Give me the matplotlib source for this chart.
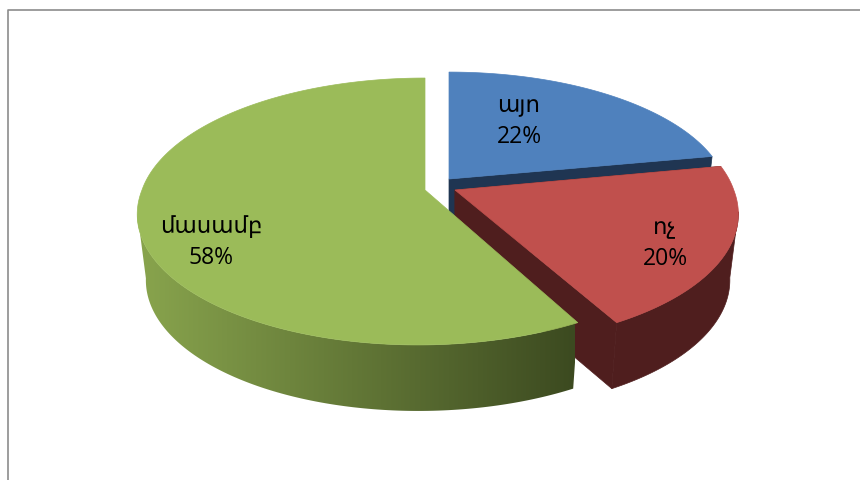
#!/usr/bin/env python3
import numpy as np
import matplotlib
matplotlib.use('Agg')
import matplotlib.pyplot as plt
from matplotlib.colors import LinearSegmentedColormap
from matplotlib.patches import Polygon

labels = ['այո', 'ոչ', 'մասամբ']
percents = [22, 20, 58]
top_colors = ['#4F81BD', '#C0504D', '#9BBB59']
side_colors = ['#1F3552', '#4F1E1E', '#4F1E1E']

# apex of each slice, radius scale and lean of the front, in pixels
apex = [(449, 179), (455, 190), (425, 190)]
scale_x = [0.975, 0.985, 1.0]
scale_y = [0.955, 1.0, 1.0]
lean = [0.0, 0.04, -0.045]
label_pos = [(519, 121.5), (665, 243.5), (211, 242.5)]

RX = 283
RY = 130
PERSP = 0.161
DEPTH = 66
SHRINK = 0.97
GREEN_LIGHT = '#8AA64E'
GREEN_DARK = '#3C4A20'
FONT = ['Open Sans', 'DejaVu Sans']


def project(t, i):
    c = apex[i]
    X = np.cos(t)
    Y = np.sin(t)
    w = 1 + PERSP * Y
    dy = -scale_y[i] * RY * Y / w
    dx = scale_x[i] * RX * X / w + lean[i] * np.maximum(dy, 0)
    return c[0] + dx, c[1] + dy


def lower(x, y, c):
    return c[0] + (x - c[0]) * SHRINK, y + DEPTH


def add_poly(ax, xs, ys, color, z):
    p = Polygon(np.column_stack([xs, ys]), closed=True, facecolor=color,
                edgecolor=color, linewidth=0.5, zorder=z)
    ax.add_patch(p)
    return p


def draw_slice(ax, t0, t1, i, z):
    # t0 > t1, going clockwise
    c = apex[i]
    ts = np.linspace(t0, t1, 240)
    xs, ys = project(ts, i)
    bx, by = lower(xs, ys, c)
    ax_, ay_ = lower(c[0], c[1], c)
    side = side_colors[i]

    # cut faces, the green ones never show
    if i != 2:
        add_poly(ax, [c[0], xs[0], bx[0], ax_], [c[1], ys[0], by[0], ay_], side, z)
        add_poly(ax, [c[0], xs[-1], bx[-1], ax_], [c[1], ys[-1], by[-1], ay_], side, z)

    # outer wall, starts at the side extreme of the ellipse
    m = np.sin(ts) < -PERSP
    wx = np.r_[xs[m], bx[m][::-1]]
    wy = np.r_[ys[m], by[m][::-1]]
    if i == 2:
        wall = Polygon(np.column_stack([wx, wy]), closed=True, facecolor='none',
                       edgecolor='none', transform=ax.transData)
        ax.add_patch(wall)
        cmap = LinearSegmentedColormap.from_list('wall', [GREEN_LIGHT, GREEN_DARK])
        grad = np.linspace(0, 1, 256).reshape(1, -1)
        im = ax.imshow(grad, cmap=cmap, extent=(130, 575, 420, 190), aspect='auto',
                       zorder=z + 1, interpolation='bilinear')
        im.set_clip_path(wall)
    elif m.any():
        add_poly(ax, wx, wy, side, z + 1)

    # top face
    add_poly(ax, np.r_[c[0], xs], np.r_[c[1], ys], top_colors[i], z + 2)


def main():
    fig = plt.figure(figsize=(8.6, 4.8), dpi=100, facecolor='white')
    ax = fig.add_axes([0, 0, 1, 1])

    # chart border, only top and left are in the frame
    ax.plot([7.5, 7.5, 860], [480, 9.5, 9.5], color='#8C8C8C', lw=1.2, zorder=1)

    start = np.pi / 2
    for i, p in enumerate(percents):
        end = start - p / sum(percents) * 2 * np.pi
        draw_slice(ax, start, end, i, 10 + i * 5)
        start = end

    for i, lab in enumerate(labels):
        ax.text(label_pos[i][0], label_pos[i][1], '%s\n%d%%' % (lab, percents[i]),
                ha='center', va='center', fontsize=16.5, color='black',
                family=FONT, linespacing=1.42, zorder=40)

    ax.set_xlim(0, 860)
    ax.set_ylim(480, 0)
    ax.axis('off')
    fig.savefig('out.png', dpi=100)


if __name__ == "__main__":
    main()
